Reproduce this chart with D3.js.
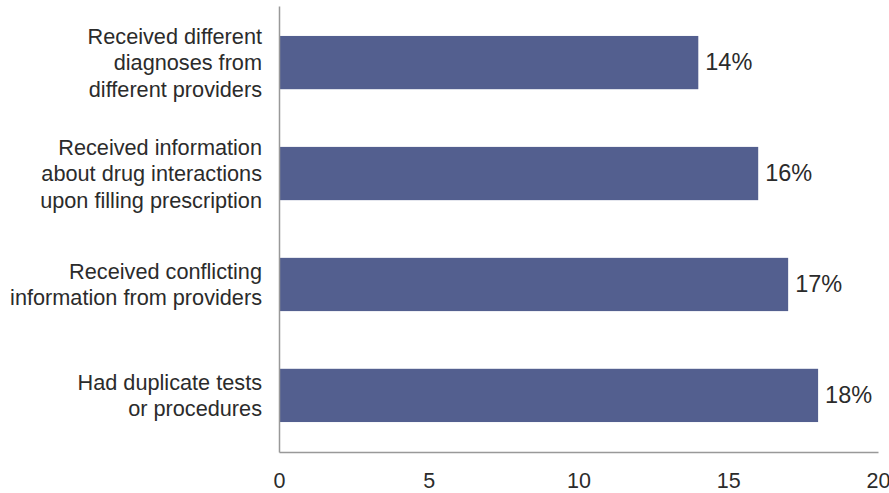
<!DOCTYPE html>
<html>
<head>
<meta charset="utf-8">
<script src="https://cdn.jsdelivr.net/npm/d3@7"></script>
<style>
  html, body { margin: 0; padding: 0; background: #fff; }
  svg { display: block; }
  text { font-family: "Liberation Sans", Arial, Helvetica, sans-serif; fill: #2b2b2b; }
</style>
</head>
<body>
<svg id="chart" width="889" height="493"></svg>
<script>
const categories = [
  ["Received different", "diagnoses from", "different providers"],
  ["Received information", "about drug interactions", "upon filling prescription"],
  ["Received conflicting", "information from providers"],
  ["Had duplicate tests", "or procedures"]
];
const values = [14, 16, 17, 18];
const valueLabels = ["14%", "16%", "17%", "18%"];
const xTicks = [0, 5, 10, 15, 20];

const svg = d3.select("#chart");
const mLeft = 279, mRight = 878, mTop = 6, mBottom = 452;

const x = d3.scaleLinear().domain([0, 20]).range([mLeft, mRight]);
const y = d3.scaleBand().domain(d3.range(categories.length)).range([mTop, mBottom]).paddingInner(0.52).paddingOuter(0.27);

// bars
svg.selectAll("rect.bar").data(values).enter().append("rect")
  .attr("class", "bar")
  .attr("x", x(0))
  .attr("y", (d, i) => y(i))
  .attr("width", d => x(d) - x(0))
  .attr("height", y.bandwidth())
  .attr("fill", "#535f8f");

// value labels
svg.selectAll("text.val").data(values).enter().append("text")
  .attr("class", "val")
  .attr("x", d => x(d) + 7)
  .attr("y", (d, i) => y(i) + y.bandwidth() / 2 - 1)
  .attr("dy", "0.35em")
  .attr("font-size", 23.5)
  .text((d, i) => valueLabels[i]);

// category labels
const lh = 26.5;
categories.forEach((lines, i) => {
  const cy = y(i) + y.bandwidth() / 2;
  const t = svg.append("text")
    .attr("text-anchor", "end")
    .attr("font-size", 21.7);
  lines.forEach((ln, j) => {
    t.append("tspan")
      .attr("x", mLeft - 17)
      .attr("y", cy + (j - (lines.length - 1) / 2) * lh)
      .attr("dy", "0.35em")
      .text(ln);
  });
});

// x axis
const xAxis = d3.axisBottom(x).tickValues(xTicks).tickSize(0).tickPadding(21);
const gx = svg.append("g").attr("transform", `translate(0,${mBottom})`).call(xAxis);
gx.select(".domain").attr("stroke", "#999").attr("stroke-width", 1.5);
gx.selectAll("text").attr("font-size", 21.5).attr("font-family", "Liberation Sans, Arial, sans-serif").attr("fill", "#2b2b2b");

// y axis line
const yAxis = d3.axisLeft(y).tickSize(0).tickFormat("");
const gy = svg.append("g").attr("transform", `translate(${mLeft},0)`).call(yAxis);
gy.select(".domain").attr("stroke", "#999").attr("stroke-width", 1.5);
</script>
</body>
</html>
